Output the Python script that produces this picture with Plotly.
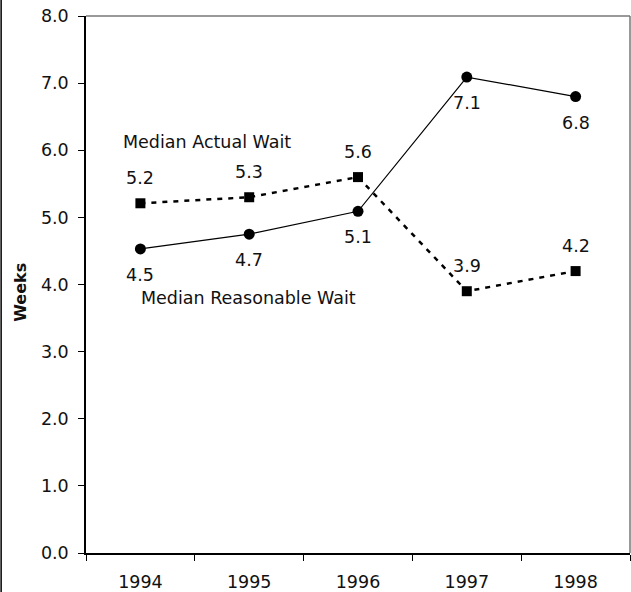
import plotly.graph_objects as go

years = ['1994', '1995', '1996', '1997', '1998']
actual_wait = [4.53, 4.75, 5.09, 7.09, 6.80]
actual_labels = ['4.5', '4.7', '5.1', '7.1', '6.8']
reasonable_wait = [5.21, 5.30, 5.60, 3.90, 4.20]
reasonable_labels = ['5.2', '5.3', '5.6', '3.9', '4.2']

FAM = 'DejaVu Sans, Verdana, sans-serif'
font = dict(family=FAM, size=17.5, color='#111')

fig = go.Figure()
fig.add_trace(go.Scatter(
    x=years, y=reasonable_wait, mode='lines+markers',
    line=dict(color='black', width=2.5, dash='5px,6px'),
    marker=dict(symbol='square', size=10, color='black'),
    cliponaxis=False, name='Median Reasonable Wait'))
fig.add_trace(go.Scatter(
    x=years, y=actual_wait, mode='lines+markers',
    line=dict(color='black', width=1.2),
    marker=dict(symbol='circle', size=11, color='black'),
    cliponaxis=False, name='Median Actual Wait'))

# value labels (category index positions)
for i, (v, lab) in enumerate(zip(reasonable_wait, reasonable_labels)):
    fig.add_annotation(x=i, y=v, text=lab, showarrow=False, font=font, yshift=25)
for i, (v, lab) in enumerate(zip(actual_wait, actual_labels)):
    fig.add_annotation(x=i, y=v, text=lab, showarrow=False, font=font, yshift=-26)

fig.add_annotation(x=0.61, y=6.12, xref='x', yref='y', text='Median Actual Wait',
                   showarrow=False, font=font, xanchor='center')
fig.add_annotation(x=0.99, y=3.8, xref='x', yref='y', text='Median Reasonable Wait',
                   showarrow=False, font=font, xanchor='center')
fig.add_annotation(x=-0.121, y=0.485, xref='paper', yref='paper', text='<b>Weeks</b>',
                   textangle=-90, showarrow=False, xanchor='center', yanchor='middle',
                   font=dict(family=FAM, size=16, color='#111'))

# gray frame on top/right, outer left border
fig.add_shape(type='line', xref='paper', yref='paper', x0=0, x1=1, y0=1, y1=1,
              line=dict(color='#777', width=1.5))
fig.add_shape(type='line', xref='paper', yref='paper', x0=1, x1=1, y0=0, y1=1,
              line=dict(color='#777', width=1.5))
fig.add_shape(type='line', xref='paper', yref='paper', x0=-0.156, x1=-0.156, y0=-0.08, y1=1.04,
              line=dict(color='black', width=1.5))

fig.update_layout(
    width=631, height=592,
    margin=dict(l=86, r=1, t=16, b=39),
    paper_bgcolor='white', plot_bgcolor='white',
    showlegend=False, font=font,
    xaxis=dict(type='category', range=[-0.5, 4.5], showgrid=False, automargin=False,
               showline=True, linecolor='black', linewidth=1.5,
               ticks='outside', tickson='boundaries', ticklen=6, tickcolor='black',
               tickfont=font, zeroline=False, ticklabelstandoff=12),
    yaxis=dict(range=[0, 8], dtick=1, tickformat='.1f', showgrid=False, automargin=False,
               showline=True, linecolor='black', linewidth=1.5,
               ticks='outside', ticklen=6, tickcolor='black', tickfont=font,
               zeroline=False, ticklabelstandoff=6),
)

fig.write_html('out.html', config={'displayModeBar': False},
               post_script="document.body.style.margin='0';")
